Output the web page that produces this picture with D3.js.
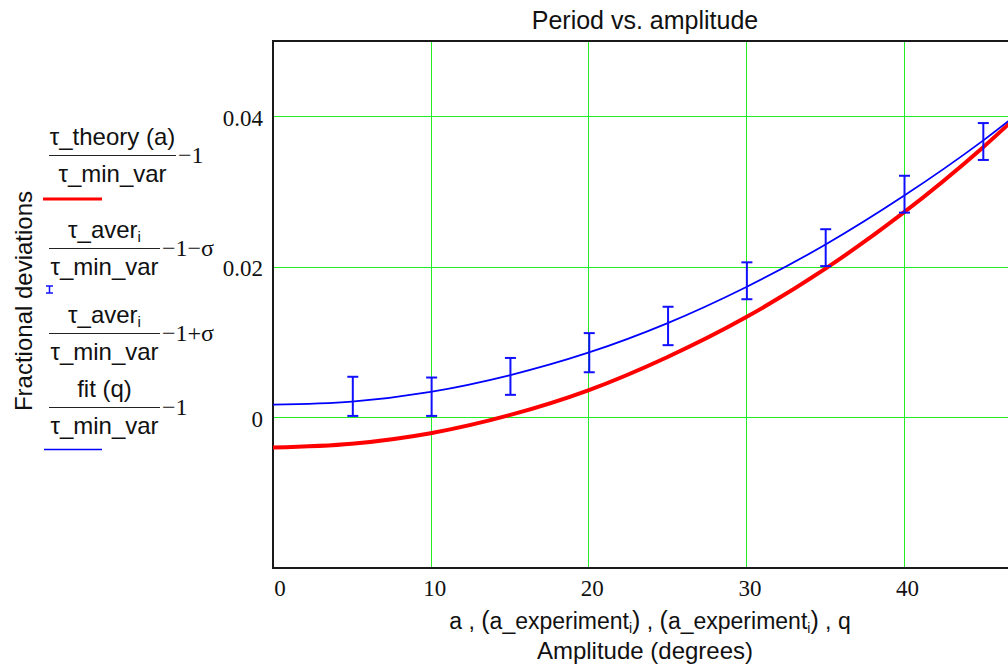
<!DOCTYPE html>
<html>
<head>
<meta charset="utf-8">
<script src="https://cdn.jsdelivr.net/npm/d3@7"></script>
<style>
  body { margin: 0; background: #fff; }
  text { fill: #111; }
  .sans { font-family: "Liberation Sans", Arial, sans-serif; }
  .serif { font-family: "Liberation Serif", "Times New Roman", serif; }
</style>
</head>
<body>
<div id="chart"></div>
<script>
// values
const xTicks = [0, 10, 20, 30, 40];
const yTicks = [0, 0.02, 0.04];
const yTickLabels = ['0', '0.02', '0.04'];

// theory curve  tau_theory(a)/tau_min_var - 1
const theoryA = [0, 5, 10, 15, 20, 25, 30, 35, 40, 45, 50];
const theoryVal = [-0.0040, -0.0035, -0.0021, 0.0003, 0.0036, 0.0080, 0.0133, 0.0197, 0.0272, 0.0358, 0.0456];

// fitted curve  fit(q)/tau_min_var - 1
const fitQ = [0, 5, 10, 15, 20, 25, 30, 35, 40, 45, 50];
const fitVal = [0.0017, 0.0021, 0.0034, 0.0056, 0.0086, 0.0125, 0.0173, 0.0229, 0.0294, 0.0367, 0.0450];

// experiment, mean -1 -sigma / +sigma
const expA = [5, 10, 15, 20, 25, 30, 35, 40, 45];
const expLow = [0.0002, 0.0002, 0.0030, 0.0060, 0.0096, 0.0157, 0.0201, 0.0272, 0.0342];
const expHigh = [0.0054, 0.0053, 0.0079, 0.0112, 0.0147, 0.0206, 0.0250, 0.0321, 0.0391];

const width = 1008, height = 669;
const plot = { left: 273, right: 1017, top: 41, bottom: 568 };

const svg = d3.select('#chart').append('svg')
  .attr('width', width)
  .attr('height', height);

svg.append('rect').attr('width', width).attr('height', height).attr('fill', '#fff');

const x = d3.scaleLinear().domain([0, 47.2]).range([plot.left, plot.right]);
const y = d3.scaleLinear().domain([-0.02, 0.05]).range([plot.bottom, plot.top]);

svg.append('clipPath').attr('id', 'clip')
  .append('rect')
  .attr('x', plot.left).attr('y', plot.top)
  .attr('width', plot.right - plot.left).attr('height', plot.bottom - plot.top);

// grid
const grid = svg.append('g').attr('class', 'grid');
grid.selectAll('.vg').data(xTicks.filter(d => d > 0)).enter().append('line')
  .attr('x1', d => Math.round(x(d)) + 0.5).attr('x2', d => Math.round(x(d)) + 0.5)
  .attr('y1', plot.top).attr('y2', plot.bottom)
  .attr('stroke', '#22ee22').attr('stroke-width', 1);
grid.selectAll('.hg').data(yTicks).enter().append('line')
  .attr('y1', d => Math.round(y(d)) + 0.5).attr('y2', d => Math.round(y(d)) + 0.5)
  .attr('x1', plot.left).attr('x2', plot.right)
  .attr('stroke', '#22ee22').attr('stroke-width', 1);

// frame
svg.append('rect')
  .attr('x', plot.left).attr('y', plot.top)
  .attr('width', plot.right - plot.left).attr('height', plot.bottom - plot.top)
  .attr('fill', 'none').attr('stroke', '#1a1a1a').attr('stroke-width', 2);

const marks = svg.append('g').attr('clip-path', 'url(#clip)');

const line = d3.line()
  .x(d => x(d[0]))
  .y(d => y(d[1]))
  .curve(d3.curveCatmullRom);

marks.append('path')
  .attr('d', line(d3.zip(theoryA, theoryVal)))
  .attr('fill', 'none').attr('stroke', '#ff0000').attr('stroke-width', 4);

marks.append('path')
  .attr('d', line(d3.zip(fitQ, fitVal)))
  .attr('fill', 'none').attr('stroke', '#0000ff').attr('stroke-width', 1.8);

// error bars
const bars = marks.selectAll('.err').data(d3.zip(expA, expLow, expHigh)).enter().append('g')
  .attr('stroke', '#1010ff').attr('stroke-width', 2).attr('fill', 'none');
bars.append('line')
  .attr('x1', d => x(d[0]) + 1).attr('x2', d => x(d[0]) + 1)
  .attr('y1', d => y(d[1])).attr('y2', d => y(d[2]));
bars.append('line')
  .attr('x1', d => x(d[0]) - 4.5).attr('x2', d => x(d[0]) + 6.5)
  .attr('y1', d => y(d[1])).attr('y2', d => y(d[1]));
bars.append('line')
  .attr('x1', d => x(d[0]) - 4.5).attr('x2', d => x(d[0]) + 6.5)
  .attr('y1', d => y(d[2])).attr('y2', d => y(d[2]));

// tick labels
svg.selectAll('.ytl').data(yTicks).enter().append('text')
  .attr('class', 'serif')
  .attr('x', 263).attr('y', d => y(d) + 9.5)
  .attr('text-anchor', 'end')
  .attr('font-size', 23)
  .text((d, i) => yTickLabels[i]);

svg.selectAll('.xtl').data(xTicks).enter().append('text')
  .attr('class', 'serif')
  .attr('x', d => x(d) + (d === 0 ? 7 : 4)).attr('y', 596)
  .attr('text-anchor', 'middle')
  .attr('font-size', 23)
  .text(d => d);

// title and axis labels
const cx = (plot.left + plot.right) / 2;
svg.append('text').attr('class', 'sans')
  .attr('x', cx).attr('y', 29).attr('text-anchor', 'middle').attr('font-size', 25)
  .text('Period vs. amplitude');

const xl = svg.append('text').attr('class', 'sans')
  .attr('x', cx + 5).attr('y', 629).attr('text-anchor', 'middle').attr('font-size', 23);
xl.append('tspan').text('a , ');
[0, 1].forEach(k => {
  xl.append('tspan').attr('font-size', 25).text('(');
  xl.append('tspan').text('a_experiment');
  xl.append('tspan').attr('font-size', 14).attr('dy', 4).text('i');
  xl.append('tspan').attr('font-size', 25).attr('dy', -4).text(')');
  xl.append('tspan').text(k === 0 ? ' , ' : ' , q');
});

svg.append('text').attr('class', 'sans')
  .attr('x', cx).attr('y', 659).attr('text-anchor', 'middle').attr('font-size', 24)
  .text('Amplitude (degrees)');

svg.append('text').attr('class', 'sans')
  .attr('transform', 'translate(32,301) rotate(-90)')
  .attr('text-anchor', 'middle').attr('font-size', 24)
  .text('Fractional deviations');

// legend: fractions
const legend = svg.append('g');

function fraction(num, sub, tail, lineX0, lineX1, lineY) {
  const mid = (lineX0 + lineX1) / 2;
  const t = legend.append('text').attr('class', 'sans')
    .attr('x', mid).attr('y', lineY - 10).attr('text-anchor', 'middle').attr('font-size', 24);
  t.append('tspan').text(num);
  if (sub) t.append('tspan').attr('font-size', 15).attr('dy', 4).text(sub);
  legend.append('line')
    .attr('x1', lineX0).attr('x2', lineX1).attr('y1', lineY + 0.5).attr('y2', lineY + 0.5)
    .attr('stroke', '#222').attr('stroke-width', 1.2);
  legend.append('text').attr('class', 'sans')
    .attr('x', mid).attr('y', lineY + 27).attr('text-anchor', 'middle').attr('font-size', 24)
    .text('τ_min_var');
  legend.append('text').attr('class', 'serif')
    .attr('x', lineX1 + 2).attr('y', lineY + 8).attr('font-size', 24)
    .text(tail);
}

fraction('τ_theory (a)', null, '−1', 49, 176, 155);
fraction('τ_aver', 'i', '−1−σ', 49, 160, 248);
fraction('τ_aver', 'i', '−1+σ', 49, 160, 333);
fraction('fit (q)', null, '−1', 49, 160, 407);

legend.append('line')
  .attr('x1', 43).attr('x2', 102).attr('y1', 199).attr('y2', 199)
  .attr('stroke', '#ff0000').attr('stroke-width', 3);
legend.append('line')
  .attr('x1', 44).attr('x2', 102).attr('y1', 449.5).attr('y2', 449.5)
  .attr('stroke', '#0000ff').attr('stroke-width', 1.3);

const icon = legend.append('g').attr('stroke', '#1010ff').attr('stroke-width', 1.5);
icon.append('line').attr('x1', 49.5).attr('x2', 49.5).attr('y1', 286).attr('y2', 293);
icon.append('line').attr('x1', 46).attr('x2', 53).attr('y1', 286).attr('y2', 286);
icon.append('line').attr('x1', 46).attr('x2', 53).attr('y1', 293).attr('y2', 293);
</script>
</body>
</html>
